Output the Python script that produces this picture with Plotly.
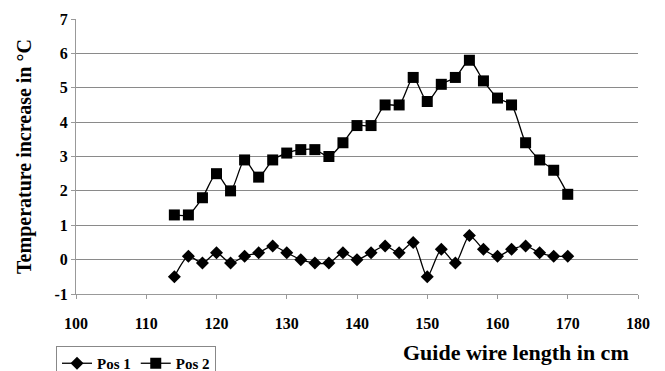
import plotly.graph_objects as go

x_cm = [114, 116, 118, 120, 122, 124, 126, 128, 130, 132, 134, 136, 138, 140, 142,
        144, 146, 148, 150, 152, 154, 156, 158, 160, 162, 164, 166, 168, 170]
pos1 = [-0.5, 0.1, -0.1, 0.2, -0.1, 0.1, 0.2, 0.4, 0.2, 0.0, -0.1, -0.1, 0.2, 0.0, 0.2,
        0.4, 0.2, 0.5, -0.5, 0.3, -0.1, 0.7, 0.3, 0.1, 0.3, 0.4, 0.2, 0.1, 0.1]
pos2 = [1.3, 1.3, 1.8, 2.5, 2.0, 2.9, 2.4, 2.9, 3.1, 3.2, 3.2, 3.0, 3.4, 3.9, 3.9,
        4.5, 4.5, 5.3, 4.6, 5.1, 5.3, 5.8, 5.2, 4.7, 4.5, 3.4, 2.9, 2.6, 1.9]
x_ticks = [100, 110, 120, 130, 140, 150, 160, 170, 180]
y_ticks = [-1, 0, 1, 2, 3, 4, 5, 6, 7]

font_family = "Liberation Serif"

fig = go.Figure()
fig.add_trace(go.Scatter(
    x=x_cm, y=pos1, name="Pos 1", mode="lines+markers",
    line=dict(color="black", width=1.3, shape="spline", smoothing=0.7),
    marker=dict(symbol="diamond", size=10, color="black"),
))
fig.add_trace(go.Scatter(
    x=x_cm, y=pos2, name="Pos 2", mode="lines+markers",
    line=dict(color="black", width=1.3, shape="spline", smoothing=0.7),
    marker=dict(symbol="square", size=11, color="black"),
))

tick_font = dict(family=font_family, size=16, color="black")

fig.update_layout(
    width=665, height=371,
    margin=dict(l=76, r=27, t=19, b=77, autoexpand=False),
    paper_bgcolor="white", plot_bgcolor="white",
    font=dict(family=font_family, color="black", size=13),
    xaxis=dict(
        range=[100, 180], tickvals=x_ticks,
        ticktext=["<b>%d</b>" % v for v in x_ticks],
        showgrid=False, zeroline=False, automargin=False,
        showline=True, linecolor="#999", linewidth=1,
        ticks="outside", ticklen=4, tickcolor="#999",
        ticklabelstandoff=11,
        tickfont=tick_font,
    ),
    yaxis=dict(
        range=[-1, 7], tickvals=y_ticks,
        ticktext=["<b>%d</b>" % v for v in y_ticks],
        showgrid=True, gridcolor="#8a8a8a", gridwidth=1, zeroline=False,
        automargin=False,
        showline=True, linecolor="#999", linewidth=1,
        ticks="outside", ticklen=4, tickcolor="#999",
        tickfont=tick_font,
        title=dict(text="<b>Temperature increase in °C</b>", standoff=17,
                   font=dict(family=font_family, size=20, color="black")),
    ),
    showlegend=True,
    legend=dict(
        orientation="h", xref="container", yref="container",
        x=56 / 665, y=1 - 346 / 371, xanchor="left", yanchor="top",
        bordercolor="#888", borderwidth=1, bgcolor="white",
        font=dict(family=font_family, size=15, color="black", weight="bold"),
        tracegroupgap=0,
    ),
    annotations=[dict(
        text="<b>Guide wire length in cm</b>", xref="paper", yref="paper",
        x=(516 - 76) / 562, y=-0.16, xanchor="center", yanchor="top", showarrow=False,
        font=dict(family=font_family, size=22, color="black"),
    )],
)

fig.write_html("out.html")
